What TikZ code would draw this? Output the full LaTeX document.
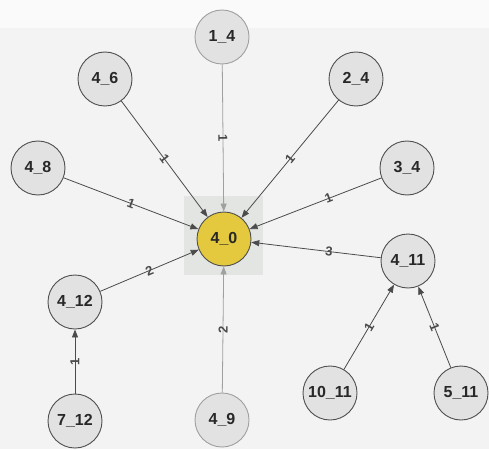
\documentclass[tikz,border=0pt]{standalone}
\usepackage{fontspec}
\setmainfont{Liberation Sans}
\usetikzlibrary{arrows.meta}
\definecolor{bgc}{RGB}{243,243,243}
\definecolor{nodefill}{RGB}{226,226,226}
\definecolor{nodeline}{RGB}{80,80,80}
\definecolor{fadeline}{RGB}{160,160,160}
\definecolor{centerfill}{RGB}{228,200,62}
\definecolor{sqfill}{RGB}{226,229,226}
\definecolor{edgec}{RGB}{75,75,75}
\definecolor{textc}{RGB}{40,40,40}
\tikzset{
  vtx/.style={circle, draw=nodeline, line width=0.9pt, fill=nodefill, minimum size=54pt, inner sep=0pt, text=textc, font=\fontsize{16}{16}\selectfont\bfseries},
  fadevtx/.style={vtx, draw=fadeline},
  hub/.style={vtx, fill=centerfill, draw=nodeline},
  edge/.style={draw=edgec, line width=0.8pt, -{Triangle[length=8pt,width=6pt]}},
  fadeedge/.style={edge, draw=fadeline},
  elab/.style={sloped, inner sep=0pt, font=\fontsize{13}{13}\selectfont\bfseries, text=edgec}
}
\begin{document}
\begin{tikzpicture}[x=1pt,y=-1pt]
\useasboundingbox (0,0) rectangle (489,449);
\fill[bgc] (0,0) rectangle (489,449);
\fill[white!60!bgc] (0,0) rectangle (489,28);
\fill[sqfill] (184,196) rectangle (263,275);
\node[hub] (n40) at (224,239) {4\_0};
\node[fadevtx] (n14) at (222,37) {1\_4};
\node[vtx] (n46) at (105,79) {4\_6};
\node[vtx] (n24) at (356,79) {2\_4};
\node[vtx] (n48) at (38,168) {4\_8};
\node[vtx] (n34) at (407,168) {3\_4};
\node[vtx] (n411) at (408,261) {4\_11};
\node[vtx] (n412) at (75,302) {4\_12};
\node[vtx] (n712) at (75,421) {7\_12};
\node[fadevtx] (n49) at (222,420) {4\_9};
\node[vtx] (n1011) at (330,393) {10\_11};
\node[vtx] (n511) at (461,393) {5\_11};
\draw[fadeedge] (n14) -- node[elab, pos=0.5] {1} (n40);
\draw[edge] (n46) -- node[elab, pos=0.5] {1} (n40);
\draw[edge] (n24) -- node[elab, pos=0.5] {1} (n40);
\draw[edge] (n48) -- node[elab, pos=0.5] {1} (n40);
\draw[edge] (n34) -- node[elab, pos=0.4] {1} (n40);
\draw[edge] (n411) -- node[elab, pos=0.4] {3} (n40);
\draw[edge] (n412) -- node[elab, pos=0.5] {2} (n40);
\draw[fadeedge] (n49) -- node[elab, pos=0.5] {2} (n40);
\draw[edge] (n712) -- node[elab, pos=0.5] {1} (n412);
\draw[edge] (n1011) -- node[elab, pos=0.5] {1} (n411);
\draw[edge] (n511) -- node[elab, pos=0.5] {1} (n411);
\end{tikzpicture}
\end{document}
